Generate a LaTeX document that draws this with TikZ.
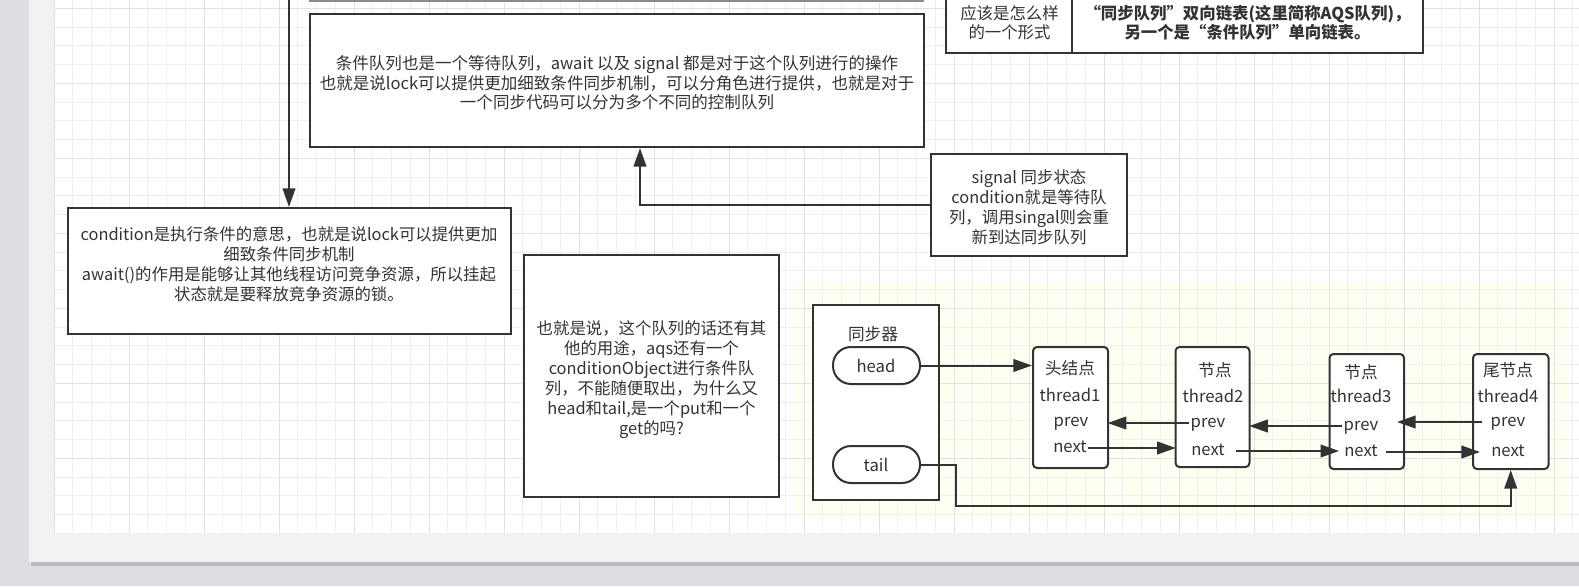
\documentclass[tikz,border=0pt]{standalone}
\usepackage{fontspec}
\setmainfont{Noto Sans CJK SC}
\usetikzlibrary{arrows.meta,fit}
\definecolor{ink}{HTML}{333333}
\definecolor{outerbg}{HTML}{DDDDE3}
\definecolor{pagebg}{HTML}{F2F2F2}
\definecolor{shadowc}{HTML}{B9B9BE}
\definecolor{gridminor}{HTML}{EFEFEF}
\definecolor{gridmajor}{HTML}{E1E1E1}
\definecolor{creamy}{HTML}{FFFFF2}
\definecolor{topgrey}{HTML}{8C8C8C}
\begin{document}
\begin{tikzpicture}[x=0.75pt,y=-0.75pt,
  box/.style={draw=ink,line width=1.5pt,fill=white,inner sep=0pt},
  rbox/.style={box,rounded corners=3pt},
  pill/.style={box,rounded corners=13.5pt},
  txt/.style={text=ink,font=\fontsize{12.3}{15}\selectfont,align=center,inner sep=0pt},
  lbl/.style={text=ink,font=\fontsize{12.5}{15}\selectfont,inner sep=0pt,text height=9pt,text depth=2.5pt},
  btxt/.style={txt,font=\fontsize{12.3}{14.5}\selectfont\bfseries},
  arr/.style={draw=ink,line width=1.5pt,-{Triangle[length=14pt,width=9.5pt]}},
  minorline/.style={draw=gridminor,line width=0.75pt},
  majorline/.style={draw=gridmajor,line width=0.75pt}]
\useasboundingbox (0,0) rectangle (1579,586);
% backgrounds
\fill[outerbg] (0,0) rectangle (1579,586);
\fill[shadowc] (31,562) rectangle (1579,566);
\fill[pagebg] (29,0) rectangle (1579,562);
\fill[white] (54,0) rectangle (1579,533);
\fill[creamy] (793,283) rectangle (1567,518);
% grid
\foreach \i in {0,...,81} {\draw[minorline] ({54+18.75*\i},0) -- ({54+18.75*\i},533);}
\foreach \i in {0,...,28} {\draw[minorline] (54,{8.33+18.75*\i}) -- (1579,{8.33+18.75*\i});}
\foreach \i in {0,...,20} {\draw[majorline] ({54+75*\i},0) -- ({54+75*\i},533);}
\foreach \i in {0,...,6} {\draw[majorline] (54,{8.33+75*\i}) -- (1579,{8.33+75*\i});}
% grey edge of a box cut off at the top
\coordinate (g1) at (309,1);
\coordinate (g2) at (924,1);
\draw[topgrey,line width=1.5pt] (g1) -- (g2);
% box A
\node[box,fit={(310,14) (924,147)}] (boxA) {};
\node[txt,font=\fontsize{12.4}{14.6}\selectfont] (boxAtext) at (617,83) {条件队列也是一个等待队列，await 以及 signal 都是对于这个队列进行的操作\\也就是说lock可以提供更加细致条件同步机制，可以分角色进行提供，也就是对于\\一个同步代码可以分为多个不同的控制队列};
% box B
\node[box,fit={(68,208) (511,334)}] (boxB) {};
\node[txt] (boxBtext) at (289,264) {condition是执行条件的意思，也就是说lock可以提供更加\\细致条件同步机制\\await()的作用是能够让其他线程访问竞争资源，所以挂起\\状态就是要释放竞争资源的锁。};
% box C
\node[box,fit={(524,255) (779,497)}] (boxC) {};
\node[txt] (boxCtext) at (651.5,380) {也就是说，这个队列的话还有其\\他的用途，aqs还有一个\\conditionObject进行条件队\\列，不能随便取出，为什么又\\head和tail,是一个put和一个\\get的吗?};
% box D
\node[box,fit={(931,154) (1127,256)}] (boxD) {};
\node[txt] (boxDtext) at (1029,207) {signal 同步状态\\condition就是等待队\\列，调用singal则会重\\新到达同步队列};
% top right table
\node[box,fit={(946,-60) (1072,53)}] (cellL) {};
\node[box,fit={(1072,-60) (1423,53)}] (cellR) {};
\node[txt,font=\fontsize{12.3}{14.5}\selectfont] (cellLtext) at (1009.5,23) {应该是怎么样\\的一个形式};
\node[btxt] (cellRtext) at (1247.5,23) {“同步队列”双向链表(这里简称AQS队列)，\\另一个是“条件队列”单向链表。};
% connectors top
\coordinate (topin) at (289,-4);
\draw[arr] (topin) -- (topin |- boxB.north);
\coordinate (ax) at (640,0);
\draw[arr] (boxD.west) -| (ax |- boxA.south);
% synchroniser
\node[box,fit={(813,305) (938.5,500)}] (sync) {};
\node[lbl] (synctitle) at (873,336) {同步器};
\node[pill,fit={(833,347) (920,384)}] (head) {};
\node[lbl] (headtext) at (876,368) {head};
\node[pill,fit={(833,446) (920,483)}] (tail) {};
\node[lbl] (tailtext) at (876,467) {tail};
% list nodes
\node[rbox,fit={(1033,347) (1108,468)}] (n1) {};
\node[rbox,fit={(1175.5,347) (1249.5,467)}] (n2) {};
\node[rbox,fit={(1329.5,354) (1404,469)}] (n3) {};
\node[rbox,fit={(1473,354) (1548.5,469)}] (n4) {};
\node[lbl] (n1a) at (1070,370) {头结点};
\node[lbl] (n1b) at (1070,397) {thread1};
\node[lbl] (n1p) at (1071,422) {prev};
\node[lbl] (n1n) at (1070,448) {next};
\node[lbl] (n2a) at (1215,372) {节点};
\node[lbl] (n2b) at (1213,398) {thread2};
\node[lbl] (n2p) at (1208,423) {prev};
\node[lbl] (n2n) at (1208,451) {next};
\node[lbl] (n3a) at (1361,374) {节点};
\node[lbl] (n3b) at (1361,398) {thread3};
\node[lbl] (n3p) at (1361,426) {prev};
\node[lbl] (n3n) at (1361,452) {next};
\node[lbl] (n4a) at (1508,372) {尾节点};
\node[lbl] (n4b) at (1508,398) {thread4};
\node[lbl] (n4p) at (1508,422) {prev};
\node[lbl] (n4n) at (1508,452) {next};
% list connectors
\draw[arr] (head.east) -- (head.east -| n1.west);
\draw[arr] ([xshift=-1pt]n2p.west) -- ([xshift=-1pt]n2p.west -| n1.east);
\draw[arr] ([xshift=1pt]n1n.east) -- ([xshift=1pt]n1n.east -| n2.west);
\draw[arr] ([xshift=-1pt]n3p.west) -- ([xshift=-1pt]n3p.west -| n2.east);
\draw[arr] ([xshift=8pt]n2n.east) -- ([xshift=8pt]n2n.east -| n3.west);
\draw[arr] ([xshift=-6pt]n4p.west) -- ([xshift=-6pt]n4p.west -| n3.east);
\draw[arr] ([xshift=6pt]n3n.east) -- ([xshift=6pt]n3n.east -| n4.west);
\coordinate (tailbend) at (956,506);
\draw[arr] (tail.east) -| (tailbend) -| (n4.south);
\end{tikzpicture}
\end{document}
